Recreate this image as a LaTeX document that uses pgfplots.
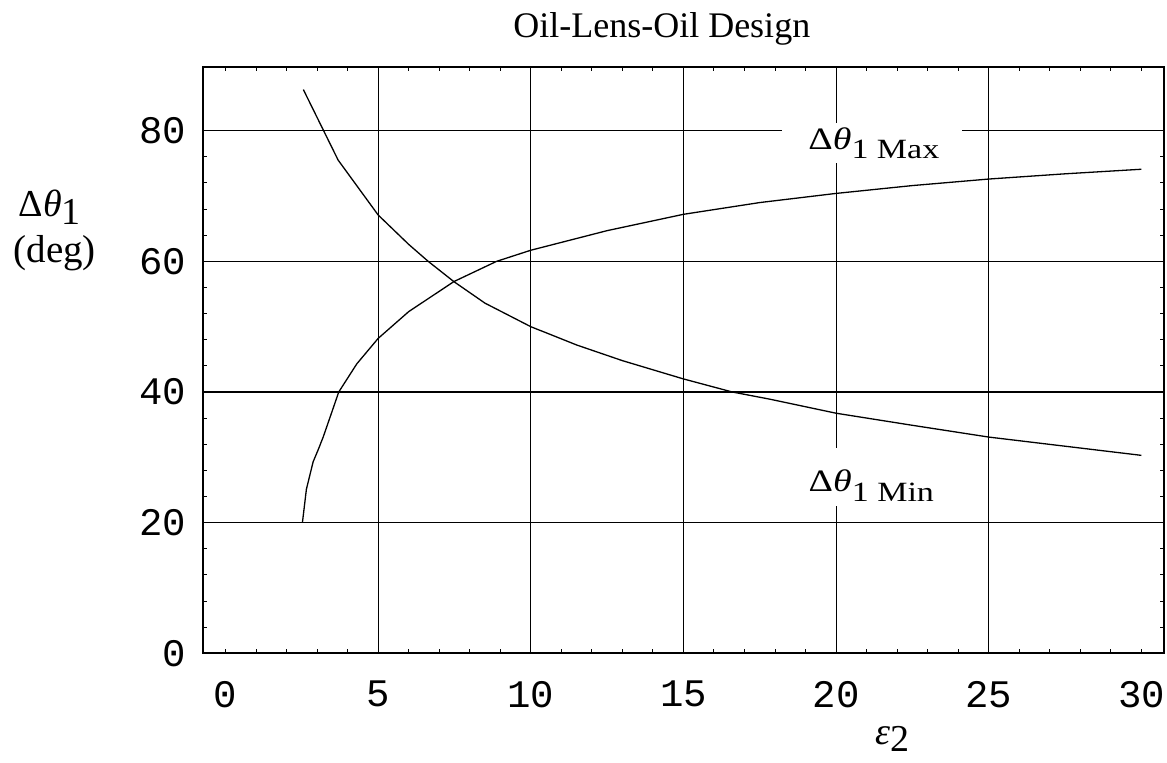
\documentclass[border=0pt]{standalone}
\usepackage{fontspec}
\setmainfont{Liberation Serif}
\setmonofont{Liberation Mono}
\usepackage{graphicx}
\usepackage{pgfplots}
\pgfplotsset{compat=1.18}
\begin{document}
\begin{tikzpicture}
\path[use as bounding box] (-101.75pt,-54.85pt) rectangle (481.75pt,326.65pt);
\begin{axis}[
 anchor=south west, at={(0pt,0pt)},
 scale only axis, width=480.25pt, height=293.3pt,
 xmin=-0.72, xmax=30.74, ymin=0, ymax=89.8,
 xtick={0,5,...,30}, ytick={0,20,...,80},
 minor x tick num=4, minor y tick num=4,
 major tick length=2pt, minor tick length=2pt,
 tick style={black, line width=0.5pt},
 axis line style={line width=1pt},
 /pgf/number format/assume math mode=true,
 ticklabel style={font=\fontsize{19.5}{20}\selectfont\ttfamily, inner sep=0pt},
 xticklabel style={yshift=-13.8pt},
 yticklabel style={xshift=-8.5pt},
 extra x ticks={5,10,15,20,25}, extra x tick labels={},
 extra y ticks={20,40,60,80}, extra y tick labels={},
 extra tick style={grid=major, major tick length=0pt},
 grid style={black, line width=0.6pt},
 clip=false,
]
% Delta theta_1 Min (decreasing)
\addplot[black, line width=0.65pt] coordinates {
(2.55,86.3)(3.69,75.5)(5,67.1)(6,62.6)(6.64,60)(7.48,56.9)(8.5,53.6)(10,50.0)
(11.5,47.2)(13,44.8)(15,42.0)(16.6,40.0)(17.83,38.9)(20,36.75)(22.5,34.9)
(25,33.1)(27.5,31.7)(30,30.3)};
% Delta theta_1 Max (increasing)
\addplot[black, line width=0.65pt] coordinates {
(2.52,20)(2.65,25.1)(2.87,29.3)(3.04,31.2)(3.2,33.1)(3.43,36.2)(3.71,40)(4.3,44.3)
(5,48.2)(6,52.3)(7.48,56.9)(8.88,60)(10,61.7)(12.5,64.7)(15,67.2)(17.5,69.0)
(20,70.4)(22.5,71.6)(25,72.6)(27.5,73.4)(30,74.1)};
\fill[white] (axis cs:18.23,75.08) rectangle (axis cs:24.12,81.2);
\fill[white] (axis cs:18.23,22.56) rectangle (axis cs:24.12,31.44);
\node[anchor=base west, inner sep=0pt] at (axis cs:19.08,77.18)
 {\scalebox{1}[0.82]{{\fontsize{19}{22}\selectfont Δ\textit{θ}}\raisebox{-6pt}{\fontsize{17}{20}\selectfont 1 Max}}};
\node[anchor=base west, inner sep=0pt] at (axis cs:19.09,24.75)
 {\scalebox{1}[0.82]{{\fontsize{19}{22}\selectfont Δ\textit{θ}}\raisebox{-6pt}{\fontsize{17}{20}\selectfont 1 Min}}};
\node[anchor=base] at (axis cs:-5.75,66.8) {\fontsize{19}{20}\selectfont Δ\textit{θ}\raisebox{-4pt}{1}};
\node[anchor=base] at (axis cs:-5.59,59.77) {\fontsize{19.5}{20}\selectfont (deg)};
\node[anchor=base] at (axis cs:14.29,94.2) {\fontsize{18}{20}\selectfont Oil-Lens-Oil Design};
\node[anchor=base] at (axis cs:21.86,-14.0) {\fontsize{19}{20}\selectfont\textit{ε}\raisebox{-3.5pt}{2}};
\end{axis}
\end{tikzpicture}
\end{document}
